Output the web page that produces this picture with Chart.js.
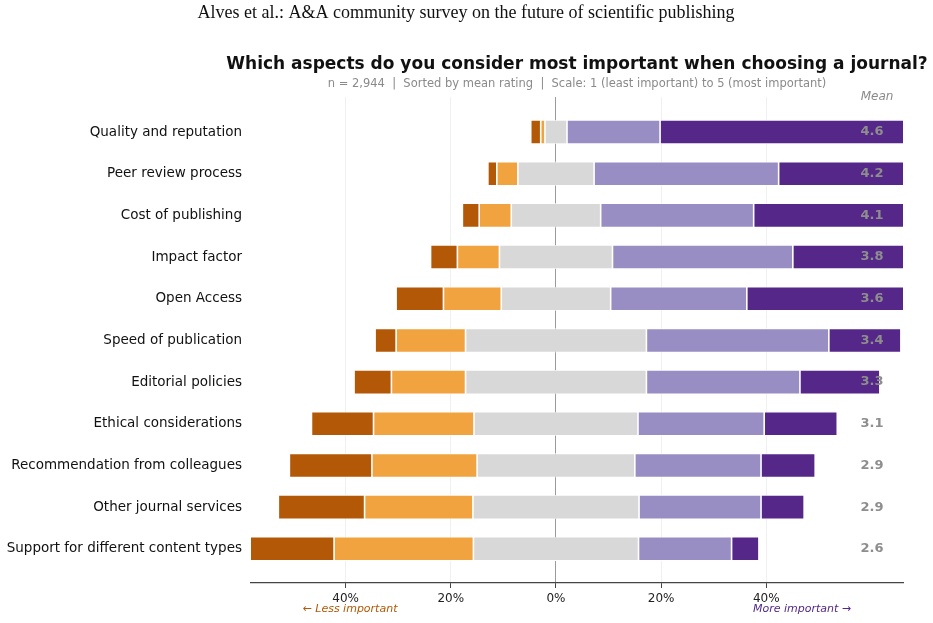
<!DOCTYPE html>
<html>
<head>
<meta charset="utf-8">
<script src="https://cdn.jsdelivr.net/npm/chart.js"></script>
<style>
  html, body { margin: 0; padding: 0; background: #fff; }
  #wrap { width: 933px; height: 623px; position: relative; }
</style>
</head>
<body>
<div id="wrap"><canvas id="chart"></canvas></div>
<script>
// survey aspects, top to bottom (sorted by mean)
const aspects = [
  "Quality and reputation", "Peer review process", "Cost of publishing",
  "Impact factor", "Open Access", "Speed of publication", "Editorial policies",
  "Ethical considerations", "Recommendation from colleagues",
  "Other journal services", "Support for different content types"
];
// share of answers per rating (%), 1 = least important .. 5 = most important
const rating1 = [1.9, 1.7, 3.2, 5.1, 9.0, 4.0, 7.1, 11.8, 15.7, 16.4, 19.2];
const rating2 = [0.8, 4.0, 6.1, 8.0, 11.0, 13.2, 14.1, 19.1, 20.0, 20.6, 26.5];
const rating3 = [4.2, 14.5, 17.0, 21.5, 20.8, 34.4, 34.4, 31.2, 30.0, 31.6, 31.4];
const rating4 = [17.7, 35.1, 29.1, 34.3, 25.9, 34.7, 29.2, 24.0, 24.0, 23.2, 17.7];
const rating5 = [75.4, 44.7, 44.6, 31.1, 33.3, 13.7, 15.2, 13.9, 10.3, 8.2, 5.2];
const means = [4.6, 4.2, 4.1, 3.8, 3.6, 3.4, 3.3, 3.1, 2.9, 2.9, 2.6];
const xTicks = [-40, -20, 0, 20, 40];

const colors = ["#b35806", "#f1a340", "#d8d8d8", "#998ec3", "#542788"];
const ratingNames = ["1", "2", "3", "4", "5"];

// floating segments: neutral is split around 0
function segments() {
  const series = [rating1, rating2, rating3, rating4, rating5];
  const out = series.map(() => []);
  aspects.forEach((a, i) => {
    let x = -(rating1[i] + rating2[i] + rating3[i] / 2);
    series.forEach((s, k) => {
      out[k].push({ y: i, x: [x, x + s[i]] });
      x += s[i];
    });
  });
  return out;
}

const segs = segments();
const datasets = segs.map((d, k) => ({
  label: ratingNames[k],
  data: d,
  backgroundColor: colors[k],
  borderColor: "#ffffff",
  borderWidth: 0.8,
  borderSkipped: false,
  grouped: false,
  barPercentage: 0.58,
  categoryPercentage: 1
}));

const textPlugin = {
  id: "texts",
  afterDraw(chart) {
    const ctx = chart.ctx;
    const area = chart.chartArea;
    const ys = chart.scales.y;
    const cx = (area.left + area.right) / 2;
    ctx.save();
    ctx.textAlign = "center";
    ctx.textBaseline = "middle";

    ctx.fillStyle = "#111";
    ctx.font = '18px "Liberation Serif"';
    ctx.fillText("Alves et al.: A&A community survey on the future of scientific publishing", 466, 13);

    ctx.font = 'bold 17px "DejaVu Sans"';
    ctx.fillText("Which aspects do you consider most important when choosing a journal?", cx, 65);

    ctx.fillStyle = "#8a8a8a";
    ctx.font = '11.5px "DejaVu Sans"';
    ctx.fillText("n = 2,944  |  Sorted by mean rating  |  Scale: 1 (least important) to 5 (most important)", cx, 84);

    ctx.font = 'italic 12px "DejaVu Sans"';
    ctx.fillText("Mean", area.right - 26, 97);

    ctx.fillStyle = "#8e8e8e";
    ctx.font = 'bold 13px "DejaVu Sans"';
    means.forEach((m, i) => {
      ctx.fillText(m.toFixed(1), area.right - 31, ys.getPixelForValue(i));
    });

    ctx.font = 'italic 11px "DejaVu Sans"';
    ctx.fillStyle = "#b35806";
    ctx.fillText("← Less important", area.left + 99, 609);
    ctx.fillStyle = "#542788";
    ctx.fillText("More important →", area.left + 551, 609);
    ctx.restore();
  }
};

new Chart(document.getElementById("chart"), {
  type: "bar",
  data: { datasets },
  options: {
    indexAxis: "y",
    responsive: true,
    maintainAspectRatio: false,
    animation: false,
    layout: { padding: { top: 97, right: 30, left: 0, bottom: 0 } },
    plugins: {
      legend: { display: false },
      tooltip: { enabled: false }
    },
    scales: {
      x: {
        type: "linear",
        min: -58,
        max: 66,
        z: 1,
        afterBuildTicks: (s) => { s.ticks = xTicks.map(v => ({ value: v })); },
        afterFit: (s) => { s.height = 40; },
        ticks: {
          color: "#222",
          font: { family: "DejaVu Sans", size: 12 },
          padding: 4,
          callback: (v) => Math.abs(v) + "%"
        },
        grid: {
          color: (c) => c.tick && c.tick.value === 0 ? "#9a9a9a" : "rgba(0,0,0,0.06)",
          tickColor: "#444",
          tickLength: 5
        },
        border: { display: true, color: "#444", width: 1.2 }
      },
      y: {
        type: "linear",
        reverse: true,
        offset: false,
        min: -0.84,
        max: 10.82,
        afterBuildTicks: (s) => { s.ticks = aspects.map((a, i) => ({ value: i })); },
        afterFit: (s) => { s.width = 251; },
        ticks: {
          color: "#111",
          font: { family: "DejaVu Sans", size: 13.5 },
          padding: 9,
          callback: (v) => aspects[v]
        },
        grid: { display: false, drawTicks: false, offset: false },
        border: { display: false }
      }
    }
  },
  plugins: [textPlugin]
});
</script>
</body>
</html>
